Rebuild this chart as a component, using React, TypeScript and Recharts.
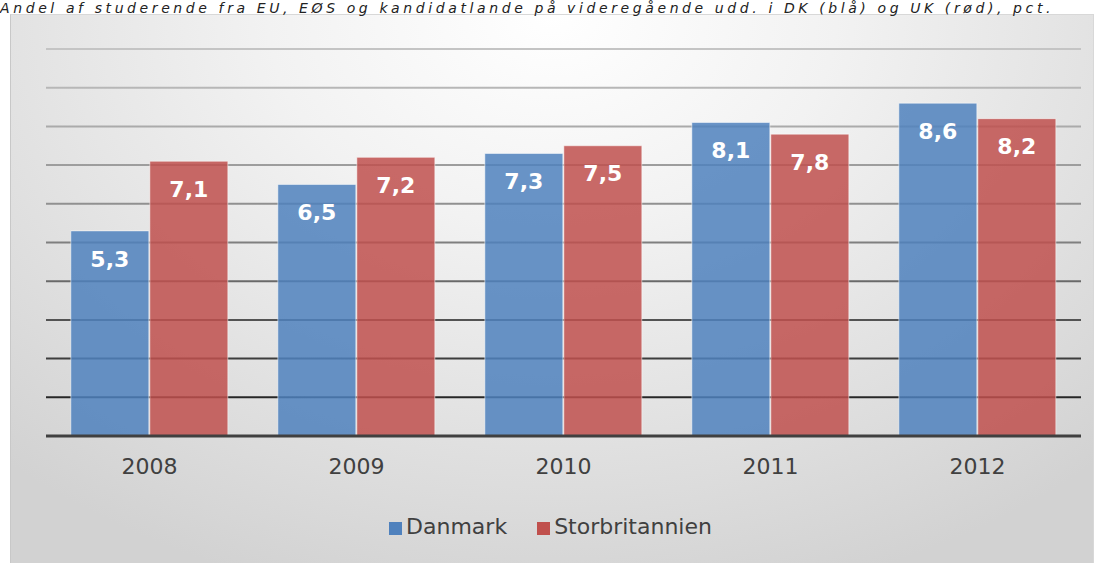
import React from 'react';
import {
  BarChart,
  Bar,
  XAxis,
  YAxis,
  CartesianGrid,
  Legend,
  LabelList,
} from 'recharts';

const years = ['2008', '2009', '2010', '2011', '2012'];
const danmark = [5.3, 6.5, 7.3, 8.1, 8.6];
const storbritannien = [7.1, 7.2, 7.5, 7.8, 8.2];
const yTicks = [0, 1, 2, 3, 4, 5, 6, 7, 8, 9, 10];

const chartData = years.map((year, i) => ({
  year,
  Danmark: danmark[i],
  Storbritannien: storbritannien[i],
}));

const fmt = (v: any) => String(v).replace('.', ',');

const FONT = '"DejaVu Sans", sans-serif';

const App: React.FC = () => {
  return (
    <div
      style={{
        position: 'absolute',
        left: 0,
        top: 0,
        width: 1102,
        height: 563,
        overflow: 'hidden',
        background: '#fff',
        fontFamily: FONT,
      }}
    >
      <div
        style={{
          position: 'absolute',
          left: 10,
          top: 14,
          width: 1082,
          height: 549,
          borderLeft: '1px solid #c8c8c8',
          borderTop: '1px solid #d8d8d8',
          borderRight: '1px solid #d8d8d8',
          background:
            'radial-gradient(ellipse 75% 110% at 50% 0%, #ffffff 0%, #f2f2f2 35%, #dcdcdc 80%, #d2d2d2 100%)',
        }}
      >
        <BarChart
          width={1082}
          height={549}
          data={chartData}
          margin={{ top: 34, right: 12, left: 35, bottom: 43 }}
          barCategoryGap="12%"
          barGap={1}
        >
          <defs>
            <linearGradient id="gridGrad" gradientUnits="userSpaceOnUse" x1="0" y1="34" x2="0" y2="421">
              <stop offset="0%" stopColor="#c4c4c4" />
              <stop offset="45%" stopColor="#8a8a8a" />
              <stop offset="100%" stopColor="#111" />
            </linearGradient>
          </defs>
          <CartesianGrid
            vertical={false}
            stroke="url(#gridGrad)"
            strokeWidth={2}
            strokeOpacity={1}
          />
          <YAxis hide domain={[0, 10]} ticks={yTicks} />
          <XAxis
            dataKey="year"
            tickLine={false}
            axisLine={{ stroke: '#404040', strokeWidth: 3 }}
            tick={{ fill: '#404040', fontSize: 22, fontFamily: FONT }}
            tickMargin={16}
            height={60}
          />
          <Legend
            verticalAlign="bottom"
            iconType="square"
            iconSize={13}
            wrapperStyle={{ fontSize: 22, fontFamily: FONT, bottom: 25, paddingLeft: 2 }}
            formatter={(value: string) => <span style={{ color: '#404040', marginRight: 20 }}>{value}</span>}
          />
          <Bar
            dataKey="Danmark"
            fill="#4F81BD"
            fillOpacity={0.85}
            stroke="#ffffff"
            strokeOpacity={0.5}
            isAnimationActive={false}
          >
            <LabelList
              dataKey="Danmark"
              position="insideTop"
              offset={20}
              formatter={fmt}
              fill="#fff"
              fontSize={22}
              fontWeight="bold"
              fontFamily={FONT}
            />
          </Bar>
          <Bar
            dataKey="Storbritannien"
            fill="#C0504D"
            fillOpacity={0.85}
            stroke="#ffffff"
            strokeOpacity={0.5}
            isAnimationActive={false}
          >
            <LabelList
              dataKey="Storbritannien"
              position="insideTop"
              offset={20}
              formatter={fmt}
              fill="#fff"
              fontSize={22}
              fontWeight="bold"
              fontFamily={FONT}
            />
          </Bar>
        </BarChart>
      </div>
      <div
        style={{
          position: 'absolute',
          left: 0,
          top: 0,
          width: 1102,
          whiteSpace: 'nowrap',
          fontStyle: 'italic',
          fontSize: 14,
          lineHeight: 'normal',
          letterSpacing: 3.6,
          color: '#222',
        }}
      >
        Andel af studerende fra EU, EØS og kandidatlande på videregående udd. i DK (blå) og UK (rød), pct.
      </div>
    </div>
  );
};

export default App;
